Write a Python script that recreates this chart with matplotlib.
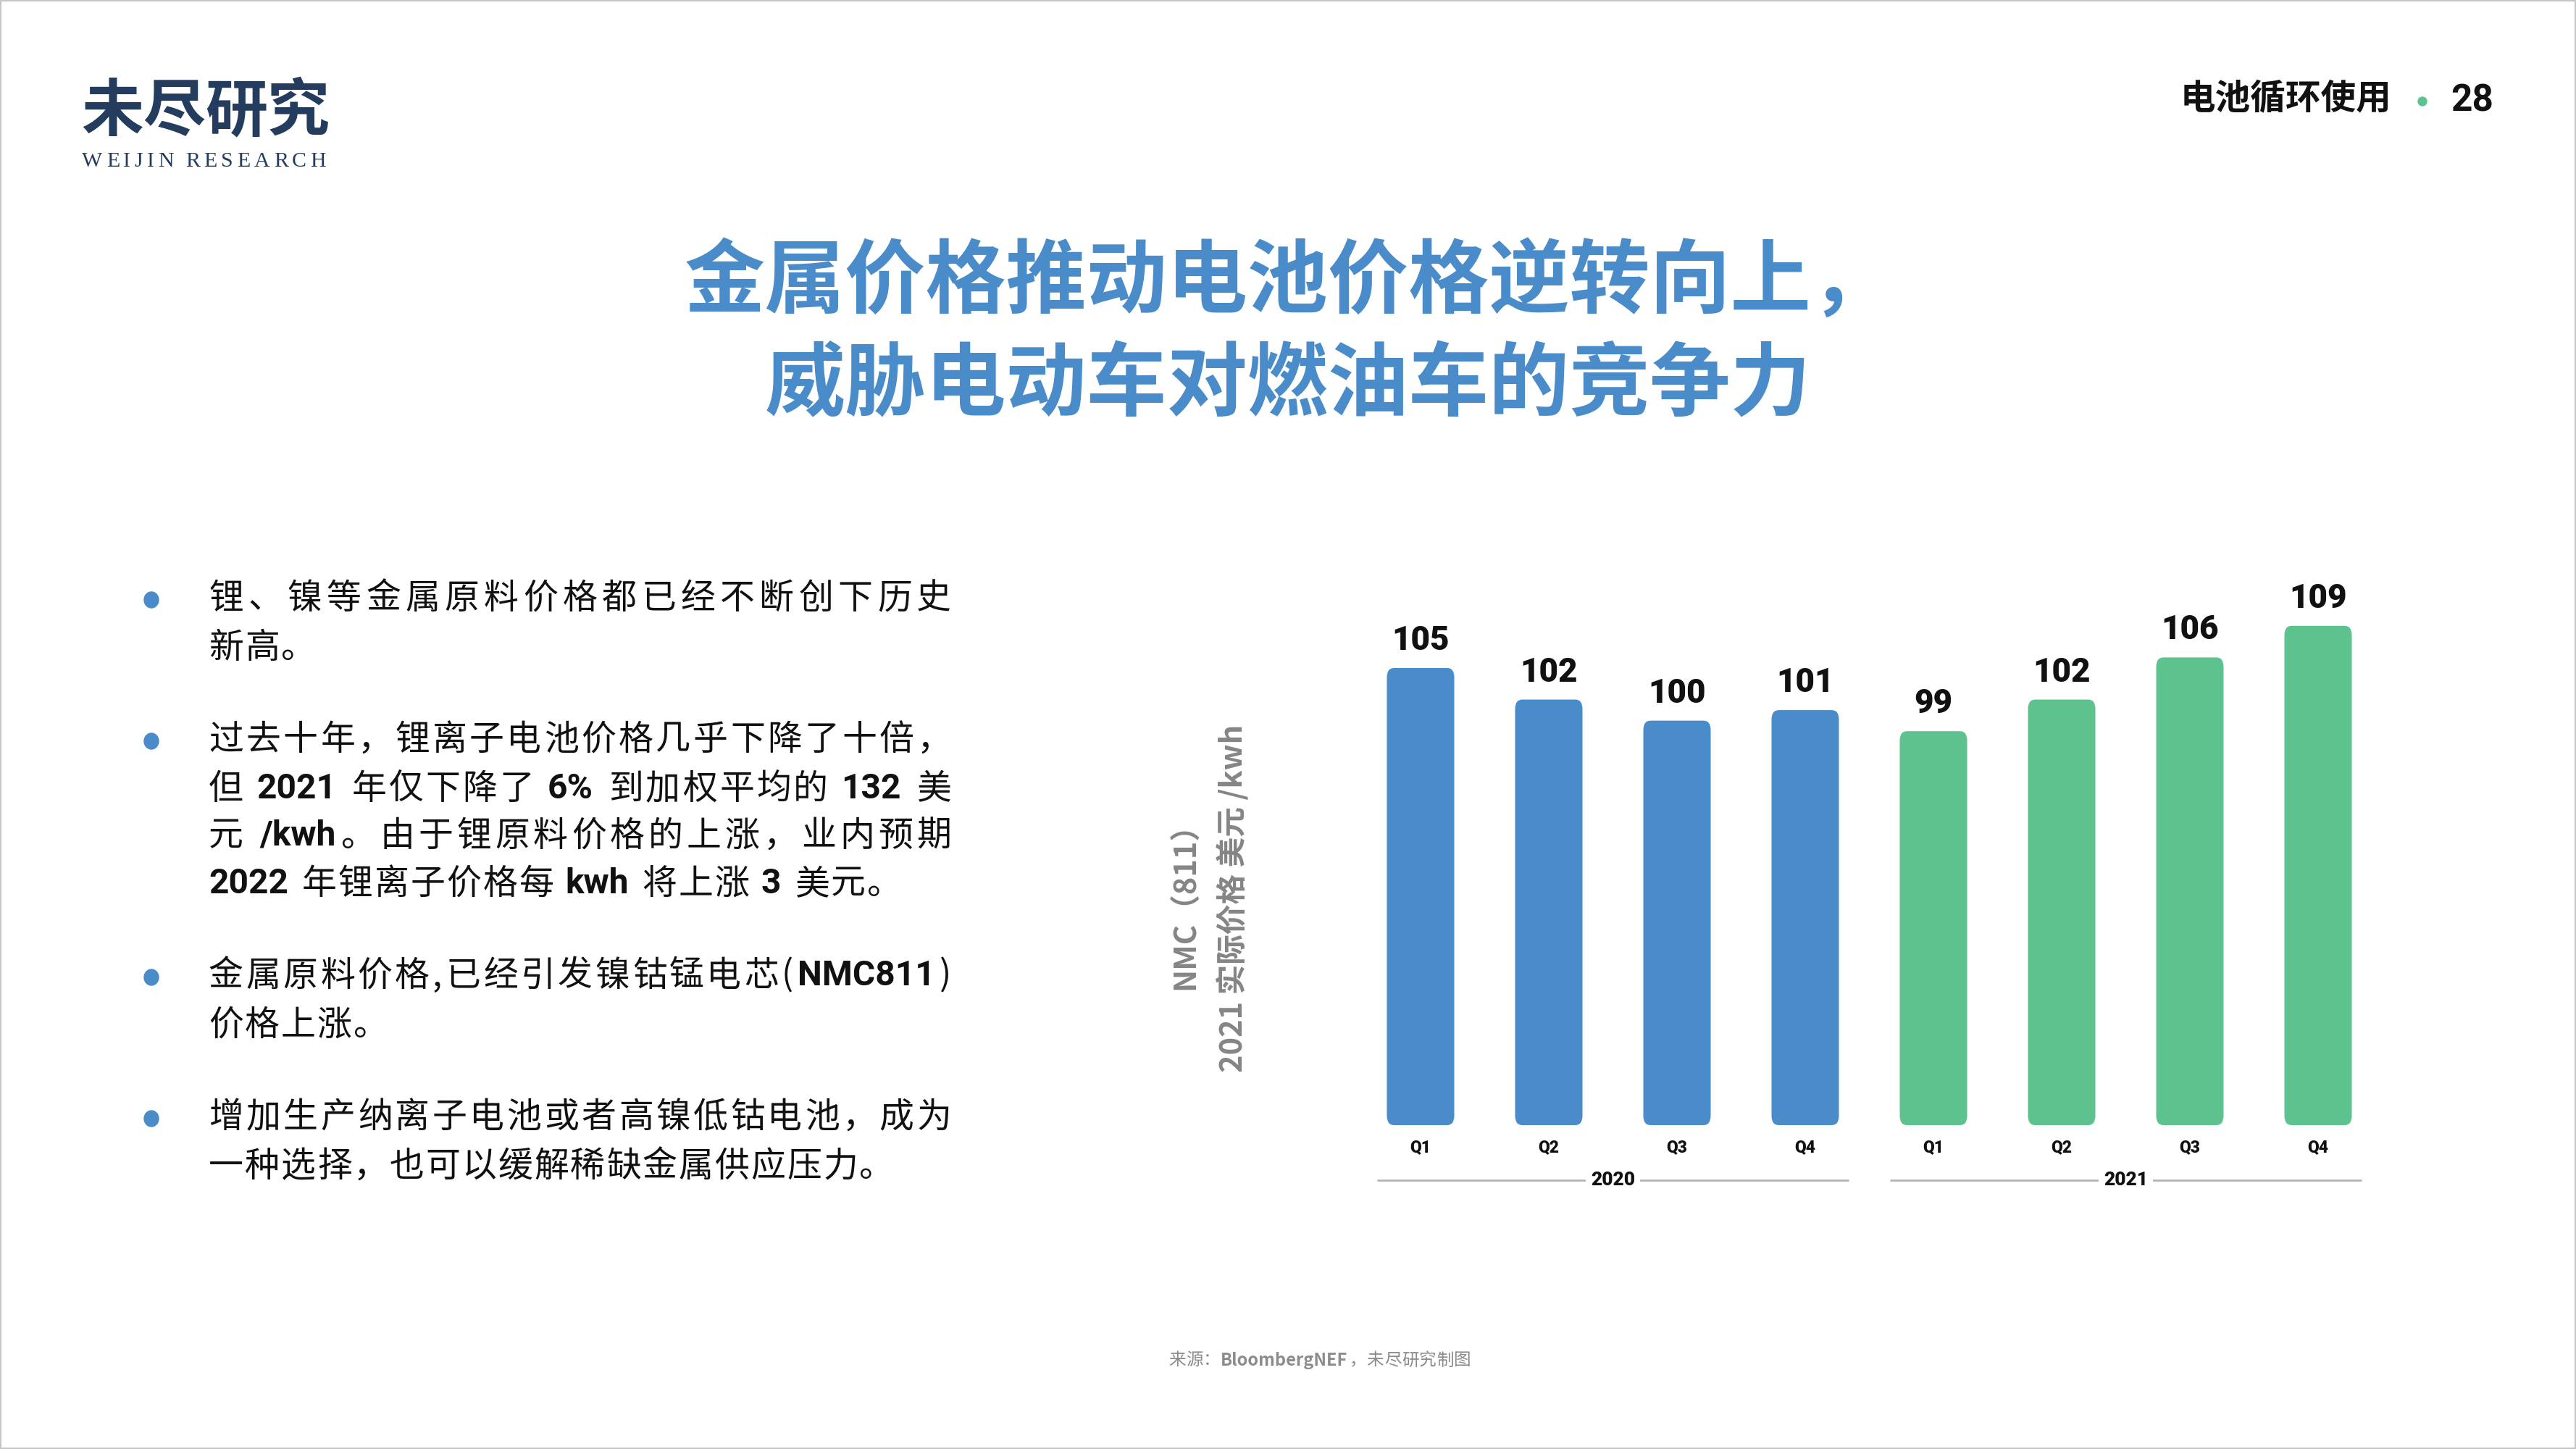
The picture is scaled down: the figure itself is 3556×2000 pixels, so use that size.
import matplotlib
matplotlib.use("Agg")
import matplotlib.pyplot as plt
from matplotlib.patches import FancyBboxPatch, Ellipse, Rectangle
import matplotlib.transforms as mtransforms

# ---------------- data ----------------
quarters = ["Q1", "Q2", "Q3", "Q4", "Q1", "Q2", "Q3", "Q4"]
years = ["2020", "2021"]
prices = [105, 102, 100, 101, 99, 102, 106, 109]
year_of_bar = [0, 0, 0, 0, 1, 1, 1, 1]
bar_colors = ["#4A8BC9", "#5EC28F"]

title_lines = ["金属价格推动电池价格逆转向上，", "威胁电动车对燃油车的竞争力"]
header_text = "电池循环使用"
page_no = "28"
ylabel_lines = ["NMC（811）", "2021 实际价格 美元 /kwh"]

# bullet paragraphs: list of lines, each line = list of (text, bold)
bullets = [
    [[("锂、镍等金属原料价格都已经不断创下历史", False)],
     [("新高。", False)]],
    [[("过去十年，锂离子电池价格几乎下降了十倍，", False)],
     [("但 ", False), ("2021", True), (" 年仅下降了 ", False), ("6%", True),
      (" 到加权平均的 ", False), ("132", True), (" 美", False)],
     [("元 ", False), ("/kwh", True), ("。由于锂原料价格的上涨，业内预期", False)],
     [("2022", True), (" 年锂离子价格每 ", False), ("kwh", True), (" 将上涨 ", False),
      ("3", True), (" 美元。", False)]],
    [[("金属原料价格,已经引发镍钴锰电芯(", False), ("NMC811", True), (")", False)],
     [("价格上涨。", False)]],
    [[("增加生产纳离子电池或者高镍低钴电池，成为", False)],
     [("一种选择，也可以缓解稀缺金属供应压力。", False)]],
]
source_runs = [("来源：", False), ("BloombergNEF", True), ("，未尽研究制图", False)]

# ---------------- figure ----------------
W, H, DPI = 3556, 2000, 100
fig = plt.figure(figsize=(W / DPI, H / DPI), dpi=DPI, facecolor="white")
renderer = fig.canvas.get_renderer()
CJK = ["Noto Sans CJK SC", "DejaVu Sans"]
LAT = ["Roboto", "DejaVu Sans"]


def fx(px):
    return px / W


def fy(py):
    return 1 - py / H


def is_wide(ch):
    return ord(ch) >= 0x2E80


def tokenize(runs):
    toks = []
    for s, bold in runs:
        buf = ""
        for ch in s:
            if is_wide(ch) or ch == " ":
                if buf:
                    toks.append((buf, bold))
                    buf = ""
                toks.append((ch, bold))
            else:
                buf += ch
        if buf:
            toks.append((buf, bold))
    return toks


def draw_runs(runs, x0, yc, fs_pt, color, justify_to=None, spacing=0.0,
              family=CJK, lat_bold_family=None, per_char=False):
    fs_px = fs_pt * DPI / 72
    if per_char:
        toks = [(ch, b) for s, b in runs for ch in s]
    else:
        toks = tokenize(runs)
    items = []
    for s, bold in toks:
        if s == " ":
            items.append((None, 0.25 * fs_px, 0.25 * fs_px))
            continue
        fam = family
        if bold and lat_bold_family and not is_wide(s[0]):
            fam = lat_bold_family
        t = fig.text(0, fy(yc), s, fontsize=fs_pt,
                     fontweight="bold" if bold else "normal",
                     family=fam, color=color, va="center", ha="left")
        ink = t.get_window_extent(renderer).width
        adv = fs_px if is_wide(s[0]) else ink + 0.06 * fs_px
        items.append((t, adv, ink))
    n = len(items)
    if justify_to is not None and n > 1:
        total = sum(a for _, a, _ in items[:-1]) + items[-1][2]
        spacing = (justify_to - x0 - total) / (n - 1)
    x = x0
    for t, adv, ink in items:
        if t is not None:
            t.set_x(fx(x))
        x += adv + spacing


# border
fig.patches.append(Rectangle((0, 0), 1, 1, transform=fig.transFigure, fill=False,
                             ec="#c9c5c5", lw=3))

# logo
draw_runs([("未尽研究", True)], 112, 155, 62, "#243D5F", justify_to=455)
draw_runs([("WEIJIN RESEARCH", False)], 113, 223, 21.5, "#243D5F", justify_to=450,
          family=["Liberation Serif", "DejaVu Serif"], per_char=True)

# header right
fig.text(fx(3010), fy(137), header_text, fontsize=35, fontweight="bold",
         family=CJK, color="#111111", va="center", ha="left")
fig.patches.append(Ellipse((fx(3344), fy(140)), 12 / W, 12 / H,
                           transform=fig.transFigure, color="#5EC28F"))
fig.text(fx(3383), fy(139), page_no, fontsize=37, fontweight="bold",
         family=LAT, color="#111111", va="center", ha="left")

# title
for line, yc in zip(title_lines, [392, 533]):
    fig.text(0.5, fy(yc), line, fontsize=80, fontweight="bold", family=CJK,
             color="#4A8BC9", va="center", ha="center")

# bullets
line_y = [[826, 894], [1021, 1089, 1154, 1220], [1347, 1415], [1542, 1610]]
BODY_FS = 34.5
for para, ys in zip(bullets, line_y):
    fig.patches.append(Ellipse((fx(209), fy(ys[0] + 2)), 20 / W, 22 / H,
                               transform=fig.transFigure, color="#4A8BC9"))
    for li, (runs, yc) in enumerate(zip(para, ys)):
        last = li == len(para) - 1
        draw_runs(runs, 288, yc, BODY_FS, "#111111",
                  justify_to=None if last else 1313, spacing=2.0,
                  lat_bold_family=LAT)

# source
draw_runs(source_runs, 1613, 1878, 17, "#8C8C8C", spacing=0.5)

# y label (two rotated lines)
for line, xc in zip(ylabel_lines, [1637, 1701]):
    fig.text(fx(xc), fy(1240), line, fontsize=30, fontweight="bold", family=CJK,
             color="#858585", rotation=90, va="center", ha="center")

# ---------------- chart ----------------
step = 177.0
left_px = 1961 - 0.5 * step
ax_w_px = 8 * step
base_py = 1553
top_py = 800
px_per_unit = 14.54
ybase = 61.6
ytop = ybase + (base_py - top_py) / px_per_unit

ax = fig.add_axes([fx(left_px), (H - base_py) / H, ax_w_px / W, (base_py - top_py) / H])
ax.set_xlim(-0.5, 7.5)
ax.set_ylim(ybase, ytop)
ax.set_facecolor("none")
for s in ax.spines.values():
    s.set_visible(False)
ax.set_yticks([])

bw = 93 / step
rx = 10 / step
ry = 13 / px_per_unit
for i, (v, yi) in enumerate(zip(prices, year_of_bar)):
    p = FancyBboxPatch((i - bw / 2, ybase), bw, v - ybase,
                       boxstyle=f"round,pad=0,rounding_size={rx}",
                       mutation_aspect=ry / rx, fc=bar_colors[yi], ec="none")
    ax.add_patch(p)
    ax.annotate(str(v), (i, v), xytext=(0, 25), textcoords="offset pixels",
                ha="center", va="baseline", fontsize=33, fontweight="black",
                family=LAT, color="#111111")

ax.set_xticks(range(len(quarters)))
ax.set_xticklabels(quarters, fontsize=16.5, fontweight="black", family=LAT, color="#111111")
ax.tick_params(axis="x", length=0, pad=14)

trans = mtransforms.blended_transform_factory(ax.transData, ax.transAxes)
yline = -(1629 - base_py) / (base_py - top_py)
for k, yr in enumerate(years):
    idx = [i for i, y in enumerate(year_of_bar) if y == k]
    c = (min(idx) + max(idx)) / 2
    ax.plot([c - 1.84, c + 1.84], [yline, yline], transform=trans, color="#B5B5B5",
            lw=2, clip_on=False, solid_capstyle="butt")
    ax.text(c, yline, yr, transform=trans, ha="center", va="center", fontsize=19,
            fontweight="black", family=LAT, color="#111111",
            bbox=dict(fc="white", ec="none", pad=5))

fig.savefig("out.png", dpi=DPI, facecolor="white")
